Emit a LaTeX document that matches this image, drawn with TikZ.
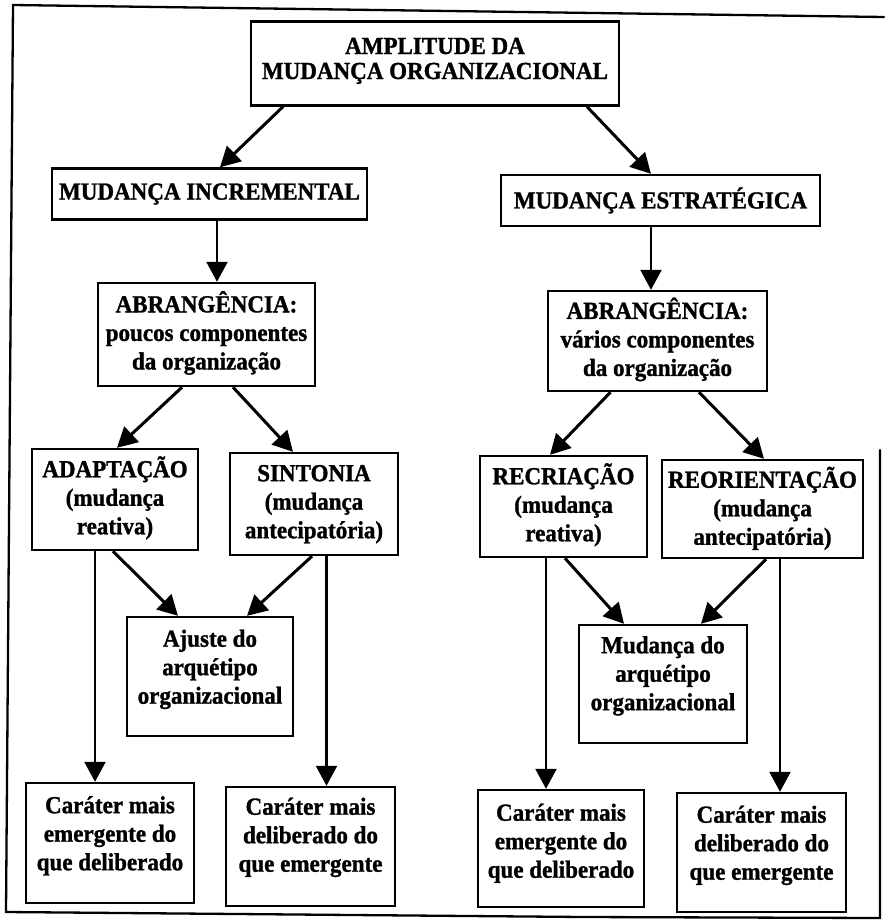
\documentclass[tikz,border=0pt]{standalone}
\usepackage{fontspec}
\setmainfont{Liberation Serif}[BoldFeatures={FakeBold=1.2,FakeStretch=0.94}]
\usetikzlibrary{arrows.meta,calc}
% stacked, centred lines; optional argument lifts the block inside its box
\newcommand\boxtext[2][0pt]{\raisebox{#1}[\height][\depth]{\begin{tabular}{@{}c@{}}#2\end{tabular}}}

\begin{document}
\begin{tikzpicture}[x=1pt,y=-1pt,
  every node/.style={font=\fontsize{24.5}{28.5}\selectfont\bfseries},
  box/.style={draw, line width=2.4pt, inner sep=0pt},
  link/.style={line width=3pt, -{Triangle[length=20pt,width=21pt]}},
  drop/.style={line width=2.3pt, -{Triangle[length=20pt,width=21pt]}},
  frame/.style={line width=2.3pt, line cap=round}]

\useasboundingbox (0,0) rectangle (884,921);

% outer frame: left, top and bottom edges, right edge only on its lower part
\draw[frame] (884,17) -- (13,5) -- (6,912) -- (584,917) -- (880,918) -- (880,450);

% level 1
\node[box, minimum width=368pt, minimum height=84pt,
      font=\fontsize{24.5}{25}\selectfont\bfseries] (top) at (435,63.5)
  {\boxtext[2pt]{AMPLITUDE DA\\MUDANÇA ORGANIZACIONAL}};

% level 2
\node[box, minimum width=315pt, minimum height=51pt] (inc) at (209.5,194) {MUDANÇA INCREMENTAL};
\node[box, minimum width=319pt, minimum height=51pt] (est) at (660.5,200.5) {MUDANÇA ESTRATÉGICA};

% level 3
\node[box, minimum width=217pt, minimum height=103pt] (abrL) at (206.5,334.5)
  {\boxtext{ABRANGÊNCIA:\\poucos componentes\\da organização}};
\node[box, minimum width=219pt, minimum height=100pt] (abrR) at (657.5,341)
  {\boxtext{ABRANGÊNCIA:\\vários componentes\\da organização}};

% level 4
\node[box, minimum width=166pt, minimum height=101pt] (adap) at (115,499.5)
  {\boxtext{ADAPTAÇÃO\\(mudança\\reativa)}};
\node[box, minimum width=168pt, minimum height=102pt] (sint) at (314,504)
  {\boxtext{SINTONIA\\(mudança\\antecipatória)}};
\node[box, minimum width=167pt, minimum height=101pt] (recr) at (563.5,506.5)
  {\boxtext{RECRIAÇÃO\\(mudança\\reativa)}};
\node[box, minimum width=201pt, minimum height=98pt] (reor) at (762.5,509)
  {\boxtext[-1pt]{REORIENTAÇÃO\\(mudança\\antecipatória)}};

% level 5
\node[box, minimum width=166pt, minimum height=119pt] (ajus) at (210,676.5)
  {\boxtext[7pt]{Ajuste do\\arquétipo\\organizacional}};
\node[box, minimum width=168pt, minimum height=118pt] (mudc) at (663,684)
  {\boxtext[8pt]{Mudança do\\arquétipo\\organizacional}};

% level 6
\node[box, minimum width=168pt, minimum height=120pt] (carA) at (110,843)
  {\boxtext[7pt]{Caráter mais\\emergente do\\que deliberado}};
\node[box, minimum width=169pt, minimum height=119pt] (carB) at (310.5,846.5)
  {\boxtext[9pt]{Caráter mais\\deliberado do\\que emergente}};
\node[box, minimum width=166pt, minimum height=117pt] (carC) at (561,848.5)
  {\boxtext[5pt]{Caráter mais\\emergente do\\que deliberado}};
\node[box, minimum width=169pt, minimum height=119pt] (carD) at (761.5,852.5)
  {\boxtext[7pt]{Caráter mais\\deliberado do\\que emergente}};

% connectors
\draw[link] ([xshift=-152pt]top.south) -- ([xshift=10.5pt]inc.north);
\draw[link] ([xshift=152pt]top.south) -- ([xshift=-9.5pt]est.north);
\draw[drop] ([xshift=10.5pt]abrL.north |- inc.south) -- ([xshift=10.5pt]abrL.north);
\draw[drop] ([xshift=-6.5pt]abrR.north |- est.south) -- ([xshift=-6.5pt]abrR.north);

\draw[link] ([xshift=-24.5pt]abrL.south) -- ([xshift=2pt]adap.north);
\draw[link] ([xshift=26.5pt]abrL.south) -- ([xshift=-21pt]sint.north);
\draw[link] ([xshift=-47pt]abrR.south) -- ([xshift=-13.5pt]recr.north);
\draw[link] ([xshift=41.5pt]abrR.south) -- ([xshift=1.5pt]reor.north);

\draw[link] ([xshift=-2pt]adap.south) -- ([xshift=-32pt]ajus.north);
\draw[link] ([xshift=-2pt]sint.south) -- ([xshift=37pt]ajus.north);
\draw[link] ([xshift=1.5pt]recr.south) -- ([xshift=-39pt]mudc.north);
\draw[link] ([xshift=3.5pt]reor.south) -- ([xshift=38pt]mudc.north);

\draw[drop] ([xshift=-15pt]carA.north |- adap.south) -- ([xshift=-15pt]carA.north);
\draw[drop] ([xshift=16pt]carB.north |- sint.south) -- ([xshift=16pt]carB.north);
\draw[drop] ([xshift=-15pt]carC.north |- recr.south) -- ([xshift=-15pt]carC.north);
\draw[drop] ([xshift=18.5pt]carD.north |- reor.south) -- ([xshift=18.5pt]carD.north);
\end{tikzpicture}
\end{document}
